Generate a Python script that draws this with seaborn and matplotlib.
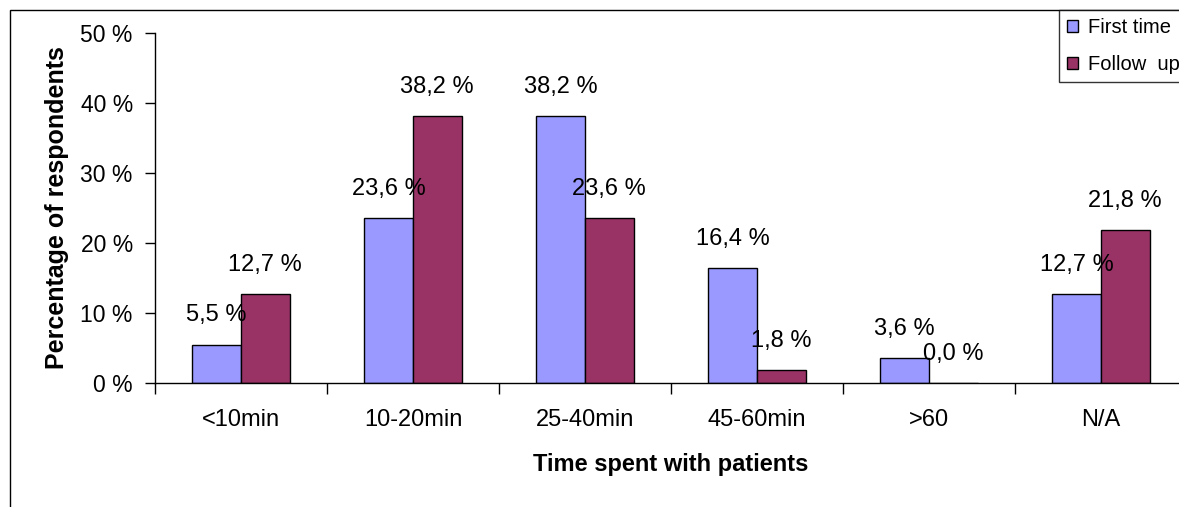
import pandas as pd
import matplotlib.pyplot as plt
import matplotlib.patches as mpatches
from matplotlib.ticker import FuncFormatter, FixedLocator
import seaborn as sns

# Data
categories = ['<10min', '10-20min', '25-40min', '45-60min', '>60', 'N/A']
first_time = [5.5, 23.6, 38.2, 16.4, 3.6, 12.7]
follow_up = [12.7, 38.2, 23.6, 1.8, 0.0, 21.8]
series_names = ['First time', 'Follow  up']
colors = ['#9999FF', '#993366']

df = pd.DataFrame({
    'time': categories * 2,
    'pct': first_time + follow_up,
    'visit': [series_names[0]] * len(categories) + [series_names[1]] * len(categories),
})

sns.set_style('white')
plt.rcParams['font.family'] = ['Liberation Sans', 'DejaVu Sans']
plt.rcParams.update({'text.color': 'black', 'axes.labelcolor': 'black',
                     'xtick.color': 'black', 'ytick.color': 'black'})

fig = plt.figure(figsize=(11.79, 5.07), dpi=100)
ax = fig.add_axes([155 / 1179, 1 - 383 / 507, 1032 / 1179, 350 / 507])

sns.barplot(data=df, x='time', y='pct', hue='visit', palette=colors,
            saturation=1, width=0.565, gap=0, edgecolor='black', linewidth=1,
            legend=False, ax=ax)

# Data labels
for cont in ax.containers:
    for bar in cont:
        h = bar.get_height()
        ax.annotate(f"{h:.1f} %".replace('.', ','),
                    (bar.get_x() + bar.get_width() / 2, h),
                    xytext=(0, 29), textcoords='offset pixels',
                    ha='center', va='center', fontsize=17)

# Axes styling
ax.set_ylim(0, 50)
ax.set_xlim(-0.5, 5.5)
ax.set_yticks(range(0, 51, 10))
ax.yaxis.set_major_formatter(FuncFormatter(lambda v, p: f"{v:.0f} %"))
ax.tick_params(axis='y', direction='out', length=7, width=1, pad=9,
               labelsize=16.5, left=True)
ax.tick_params(axis='x', which='major', length=0, pad=19, labelsize=17)
ax.xaxis.set_minor_locator(FixedLocator([i - 0.5 for i in range(len(categories) + 1)]))
ax.tick_params(axis='x', which='minor', direction='out', length=8, width=1, bottom=True)

for s in ['top', 'right']:
    ax.spines[s].set_visible(False)
for s in ['left', 'bottom']:
    ax.spines[s].set_color('black')
    ax.spines[s].set_linewidth(1)

ax.set_xlabel('Time spent with patients', fontsize=17, fontweight='bold')
ax.set_ylabel('Percentage of respondents', fontsize=18, fontweight='bold')
ax.xaxis.set_label_coords(0.5, -0.234)
ax.xaxis.label.set_va('center')
ax.yaxis.set_label_coords(-0.095, 0.5)
ax.yaxis.label.set_va('center')

# Legend
handles = [mpatches.Patch(facecolor=c, edgecolor='black', linewidth=1) for c in colors]
leg = fig.legend(handles, series_names, loc='upper left',
                 bbox_to_anchor=(1059 / 1179, 1 - 10 / 507),
                 frameon=True, fancybox=False, fontsize=14.5,
                 handlelength=0.55, handleheight=0.55, handletextpad=0.5,
                 labelspacing=0.9, borderpad=0.4, borderaxespad=0)
leg.get_frame().set_edgecolor('black')
leg.get_frame().set_linewidth(1)

# Chart border
fig.patches.append(mpatches.Rectangle((10 / 1179, -0.1), 1.2, 1.1 - 10 / 507,
                                      transform=fig.transFigure, fill=False,
                                      edgecolor='black', linewidth=1))

fig.savefig('out.png', dpi=100)
